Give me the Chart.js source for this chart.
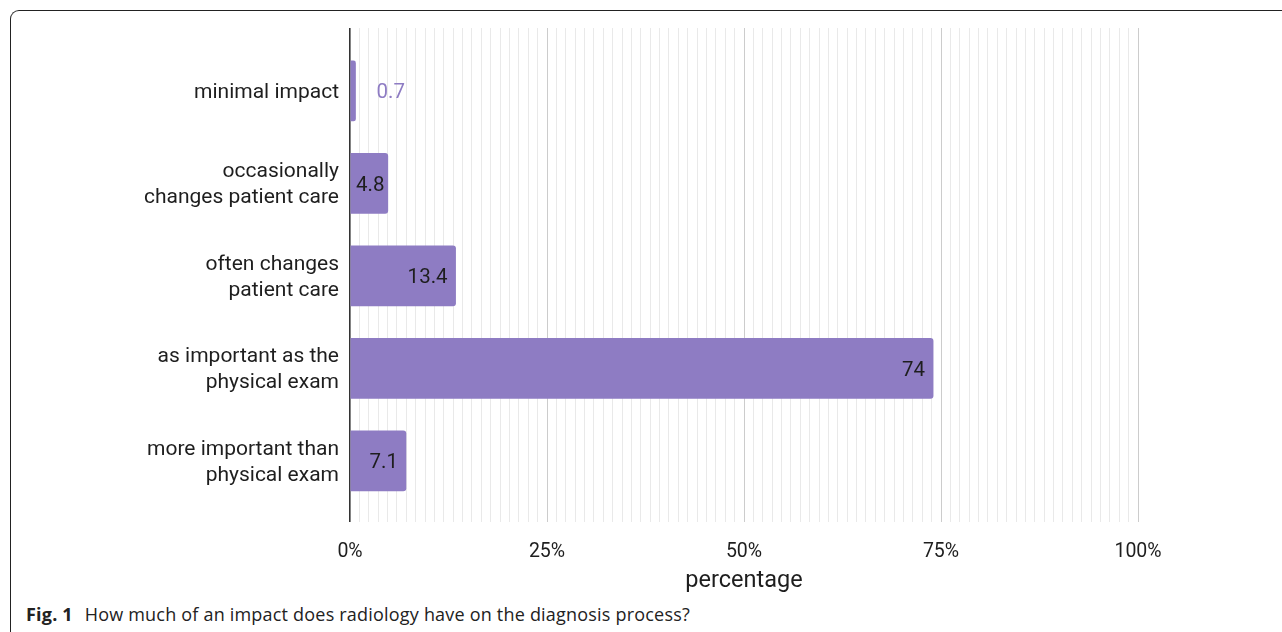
<!DOCTYPE html>
<html>
<head>
<meta charset="utf-8">
<script src="https://cdn.jsdelivr.net/npm/chart.js@4.4.1/dist/chart.umd.min.js"></script>
<style>
  html, body { margin: 0; padding: 0; background: #fff; }
  body { width: 1282px; height: 632px; position: relative; overflow: hidden; }
  .frame {
    position: absolute; left: 10px; top: 10px; right: -20px; bottom: -20px;
    border-top: 1.5px solid #222; border-left: 1.5px solid #222;
    border-top-left-radius: 9px;
  }
  #wrap { position: absolute; left: 0; top: 0; width: 1282px; height: 600px; }
  .caption {
    position: absolute; left: 26px; top: 605px; line-height: 18px; white-space: nowrap;
    font-family: "Open Sans", "Noto Sans", sans-serif; font-size: 18px; color: #222;
    letter-spacing: 0.2px;
  }
  .caption b { font-weight: 700; margin-right: 7px; }
</style>
</head>
<body>
<div class="frame"></div>
<div id="wrap"><canvas id="chart" width="1282" height="600"></canvas></div>
<div class="caption"><b>Fig. 1</b> How much of an impact does radiology have on the diagnosis process?</div>
<script>
// Survey answers, top to bottom
const categories = [
  ["minimal impact"],
  ["occasionally", "changes patient care"],
  ["often changes", "patient care"],
  ["as important as the", "physical exam"],
  ["more important than", "physical exam"],
];
const percentages = [0.7, 4.8, 13.4, 74, 7.1];
const valueLabels = ["0.7", "4.8", "13.4", "74", "7.1"];
const xTickLabels = ["0%", "25%", "50%", "75%", "100%"];
const majorTicks = [0, 25, 50, 75, 100];
const minorPerMajor = 21; // thin grid lines between two labelled ticks

const BAR_COLOR = "#8e7cc3";
const TEXT_COLOR = "#1e1e1e";

// bar value labels: inside near the end, or outside in bar colour if too small
const valueLabelPlugin = {
  id: "valueLabels",
  afterDatasetsDraw(chart) {
    const ctx = chart.ctx;
    const meta = chart.getDatasetMeta(0);
    ctx.save();
    ctx.font = "20.5px Roboto";
    ctx.textBaseline = "middle";
    meta.data.forEach((bar, i) => {
      const text = valueLabels[i];
      const w = ctx.measureText(text).width;
      const barW = bar.x - bar.base;
      if (barW >= w + 16) {
        ctx.fillStyle = TEXT_COLOR;
        ctx.textAlign = "right";
        ctx.fillText(text, bar.x - 8, bar.y + 2);
      } else if (barW >= w + 4) {
        ctx.fillStyle = TEXT_COLOR;
        ctx.textAlign = "center";
        ctx.fillText(text, (bar.x + bar.base) / 2 + 1, bar.y + 2);
      } else {
        ctx.fillStyle = BAR_COLOR;
        ctx.textAlign = "left";
        ctx.fillText(text, bar.x + 21, bar.y + 2);
      }
    });
    ctx.restore();
  },
};

function gridValues() {
  const vals = [];
  for (let m = 0; m < majorTicks.length - 1; m++) {
    const a = majorTicks[m], b = majorTicks[m + 1];
    for (let k = 0; k < minorPerMajor; k++) vals.push(a + ((b - a) * k) / minorPerMajor);
  }
  vals.push(majorTicks[majorTicks.length - 1]);
  return vals;
}

function majorIndex(value) {
  return majorTicks.findIndex((t) => Math.abs(t - value) < 1e-6);
}

new Chart(document.getElementById("chart"), {
  type: "bar",
  data: {
    datasets: [{
      data: percentages.map((v, i) => ({ x: v, y: i })),
      backgroundColor: BAR_COLOR,
      borderRadius: 3,
      barThickness: 60,
    }],
  },
  options: {
    indexAxis: "y",
    responsive: false,
    animation: false,
    events: [],
    layout: { padding: { left: 10, right: 144, top: 28, bottom: 0 } },
    plugins: { legend: { display: false }, tooltip: { enabled: false } },
    scales: {
      x: {
        type: "linear",
        min: 0,
        max: 100,
        afterBuildTicks: (s) => { s.ticks = gridValues().map((v) => ({ value: v })); },
        afterFit: (s) => { s.height = 78; s.paddingLeft = 0; s.paddingRight = 0; },
        border: { display: false },
        grid: {
          drawTicks: false,
          lineWidth: (c) => (c.tick && c.tick.value === 0 ? 1.6 : 1),
          color: (c) => {
            const v = c.tick ? c.tick.value : -1;
            if (v === 0) return "#333";
            return majorIndex(v) >= 0 ? "#cccccc" : "#e9e9e9";
          },
        },
        ticks: {
          autoSkip: false,
          maxRotation: 0,
          padding: 18,
          color: TEXT_COLOR,
          font: { family: "Roboto", size: 19.5 },
          callback: (v) => { const i = majorIndex(v); return i >= 0 ? xTickLabels[i] : ""; },
        },
        title: {
          display: true,
          text: "percentage",
          color: TEXT_COLOR,
          font: { family: "Roboto", size: 23.5 },
          padding: { top: 0, bottom: 5 },
        },
      },
      y: {
        type: "linear",
        reverse: true,
        offset: false,
        min: -0.68,
        max: 4.66,
        afterBuildTicks: (s) => { s.ticks = categories.map((_, i) => ({ value: i })); },
        afterFit: (s) => { s.width = 340; s.paddingTop = 0; s.paddingBottom = 0; },
        border: { display: false },
        grid: { display: false, drawTicks: false },
        ticks: {
          padding: 11,
          labelOffset: 1.5,
          color: TEXT_COLOR,
          font: { family: "Roboto", size: 21, lineHeight: 1.24 },
          callback: (v) => categories[Math.round(v)],
        },
      },
    },
  },
  plugins: [valueLabelPlugin],
});
</script>
</body>
</html>
